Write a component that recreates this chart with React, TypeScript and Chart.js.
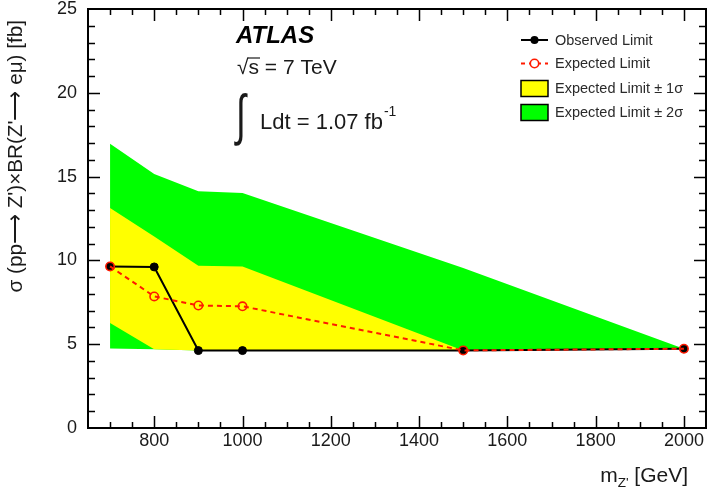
import { useEffect, useRef } from 'react';
import { Chart, registerables } from 'chart.js';

Chart.register(...registerables);

// Z' mass points [GeV] and 95% CL limits on sigma x BR [fb]
const massPoints = [700, 800, 900, 1000, 1500, 2000];
const observedLimit = [9.64, 9.61, 4.62, 4.62, 4.63, 4.73];
const expectedLimit = [9.64, 7.85, 7.31, 7.26, 4.63, 4.73];
const expectedPlus1Sigma = [13.13, 11.43, 9.68, 9.64, 4.63, 4.73];
const expectedMinus1Sigma = [6.26, 4.7, 4.62, 4.62, 4.63, 4.73];
const expectedPlus2Sigma = [16.96, 15.15, 14.12, 14.02, 9.55, 4.73];
const expectedMinus2Sigma = [4.75, 4.7, 4.62, 4.62, 4.63, 4.73];

const xTickValues = [800, 1000, 1200, 1400, 1600, 1800, 2000];
const yTickValues = [0, 5, 10, 15, 20, 25];
const xMin = 650;
const xMax = 2050;
const yMin = 0;
const yMax = 25;

const legendLabels = [
  'Observed Limit',
  'Expected Limit',
  'Expected Limit \u00b1 1\u03c3',
  'Expected Limit \u00b1 2\u03c3',
];

const FONT = '"Liberation Sans", Arial, Helvetica, sans-serif';
const TEXT = '#1a1a1a';
const GREEN = '#00ff00';
const YELLOW = '#ffff00';
const RED = '#ff1a00';

const toPoints = (vals: number[]) => massPoints.map((x, i) => ({ x, y: vals[i] }));

// ROOT-style frame: ticks pointing inward on all four sides
const framePlugin = {
  id: 'rootFrame',
  afterDatasetsDraw(chart: any) {
    const { ctx, chartArea, scales } = chart;
    const { left, right, top, bottom } = chartArea;
    const xs = scales.x;
    const ys = scales.y;
    ctx.save();
    ctx.strokeStyle = '#000';
    ctx.lineWidth = 1.5;
    ctx.beginPath();
    for (let v = xMin + 50; v < xMax; v += 50) {
      const px = Math.round(xs.getPixelForValue(v)) + 0.5;
      const len = v % 200 === 0 ? 12 : 6;
      ctx.moveTo(px, bottom);
      ctx.lineTo(px, bottom - len);
      ctx.moveTo(px, top);
      ctx.lineTo(px, top + len);
    }
    for (let v = yMin + 1; v < yMax; v += 1) {
      const py = Math.round(ys.getPixelForValue(v)) + 0.5;
      const len = v % 5 === 0 ? 12 : 7;
      ctx.moveTo(left, py);
      ctx.lineTo(left + len, py);
      ctx.moveTo(right, py);
      ctx.lineTo(right - len, py);
    }
    ctx.stroke();
    ctx.lineWidth = 2;
    ctx.strokeRect(left, top, right - left, bottom - top);
    ctx.restore();
  },
};

// Experiment label, legend and axis titles
const annotationPlugin = {
  id: 'annotations',
  afterDraw(chart: any) {
    const { ctx } = chart;
    ctx.save();
    ctx.textBaseline = 'middle';
    ctx.textAlign = 'left';

    // ATLAS label
    ctx.fillStyle = '#000';
    ctx.font = `italic bold 24px ${FONT}`;
    ctx.fillText('ATLAS', 236, 36);

    // sqrt(s) = 7 TeV
    ctx.fillStyle = TEXT;
    ctx.font = `21px ${FONT}`;
    const sx = 237;
    const sy = 68;
    ctx.fillText('\u221a', sx, sy);
    const wRoot = ctx.measureText('\u221a').width;
    ctx.fillText('s = 7 TeV', sx + wRoot, sy);
    const wS = ctx.measureText('s').width;
    ctx.lineWidth = 1.2;
    ctx.strokeStyle = TEXT;
    ctx.beginPath();
    ctx.moveTo(sx + wRoot - 1, sy - 10);
    ctx.lineTo(sx + wRoot + wS + 1, sy - 10);
    ctx.stroke();

    // integral L dt
    ctx.save();
    ctx.font = `36px ${FONT}`;
    ctx.translate(236, 119);
    ctx.scale(1, 1.55);
    ctx.fillText('\u222b', 0, 0);
    ctx.restore();
    ctx.font = `22px ${FONT}`;
    const lx = 260;
    const ly = 123;
    ctx.fillText('Ldt = 1.07 fb', lx, ly);
    const wL = ctx.measureText('Ldt = 1.07 fb').width;
    ctx.font = `14px ${FONT}`;
    ctx.fillText('-1', lx + wL + 1, ly - 11);

    // legend
    const lgX0 = 521;
    const lgX1 = 548;
    const lgMid = (lgX0 + lgX1) / 2;
    const lgText = 555;
    const rows = [40, 63.5, 88.5, 112.5];
    ctx.font = `14.5px ${FONT}`;
    ctx.fillStyle = '#2a2a2a';
    legendLabels.forEach((label, i) => ctx.fillText(label, lgText, rows[i] + 0.5));

    ctx.strokeStyle = '#000';
    ctx.lineWidth = 2;
    ctx.beginPath();
    ctx.moveTo(lgX0, rows[0]);
    ctx.lineTo(lgX1, rows[0]);
    ctx.stroke();
    ctx.fillStyle = '#000';
    ctx.beginPath();
    ctx.arc(lgMid, rows[0], 4, 0, Math.PI * 2);
    ctx.fill();

    ctx.strokeStyle = RED;
    ctx.setLineDash([4, 4]);
    ctx.beginPath();
    ctx.moveTo(lgX0, rows[1]);
    ctx.lineTo(lgX1, rows[1]);
    ctx.stroke();
    ctx.setLineDash([]);
    ctx.fillStyle = '#fff';
    ctx.lineWidth = 1.6;
    ctx.beginPath();
    ctx.arc(lgMid, rows[1], 4.2, 0, Math.PI * 2);
    ctx.fill();
    ctx.stroke();

    ctx.lineWidth = 1.5;
    ctx.strokeStyle = '#000';
    ctx.fillStyle = YELLOW;
    ctx.fillRect(lgX0, rows[2] - 8, lgX1 - lgX0, 16);
    ctx.strokeRect(lgX0, rows[2] - 8, lgX1 - lgX0, 16);
    ctx.fillStyle = GREEN;
    ctx.fillRect(lgX0, rows[3] - 8, lgX1 - lgX0, 16);
    ctx.strokeRect(lgX0, rows[3] - 8, lgX1 - lgX0, 16);

    // x-axis title: m_Z' [GeV]
    ctx.fillStyle = TEXT;
    ctx.textBaseline = 'alphabetic';
    const big = `21px ${FONT}`;
    const small = `13.5px ${FONT}`;
    ctx.font = big;
    const wM = ctx.measureText('m').width;
    const wG = ctx.measureText(' [GeV]').width;
    ctx.font = small;
    const wZ = ctx.measureText("Z'").width;
    const xEnd = 688;
    const x0 = xEnd - (wM + wZ + wG);
    ctx.font = big;
    ctx.fillText('m', x0, 482);
    ctx.font = small;
    ctx.fillText("Z'", x0 + wM, 487);
    ctx.font = big;
    ctx.fillText(' [GeV]', x0 + wM + wZ, 482);

    // y-axis title
    ctx.save();
    ctx.translate(22, 20);
    ctx.rotate(-Math.PI / 2);
    ctx.textAlign = 'right';
    ctx.font = `20.7px ${FONT}`;
    ctx.fillText("\u03c3 (pp\u27f6 Z')\u00d7BR(Z'\u27f6 e\u03bc) [fb]", 0, 0);
    ctx.restore();

    ctx.restore();
  },
};

export default function App() {
  const canvasRef = useRef<HTMLCanvasElement>(null);

  useEffect(() => {
    const prevMargin = document.body.style.margin;
    document.body.style.margin = '0';
    const canvas = canvasRef.current;
    if (!canvas) return;

    const bandLine = {
      borderWidth: 0,
      borderColor: 'rgba(0,0,0,0)',
      pointRadius: 0,
      pointHoverRadius: 0,
      tension: 0,
    };

    const chart = new Chart(canvas, {
      type: 'line',
      data: {
        datasets: [
          {
            label: legendLabels[0],
            data: toPoints(observedLimit),
            borderColor: '#000',
            borderWidth: 2,
            pointRadius: 4,
            pointBackgroundColor: '#000',
            pointBorderColor: '#000',
            pointBorderWidth: 1,
            tension: 0,
            order: 1,
          },
          {
            label: legendLabels[1],
            data: toPoints(expectedLimit),
            borderColor: RED,
            borderWidth: 2,
            borderDash: [5, 4],
            pointRadius: 4.2,
            pointBackgroundColor: 'rgba(0,0,0,0)',
            pointBorderColor: RED,
            pointBorderWidth: 1.6,
            tension: 0,
            order: 0,
          },
          {
            label: legendLabels[2],
            data: toPoints(expectedPlus1Sigma),
            backgroundColor: YELLOW,
            fill: '+1',
            order: 2,
            ...bandLine,
          },
          {
            label: 'minus1',
            data: toPoints(expectedMinus1Sigma),
            fill: false,
            order: 3,
            ...bandLine,
          },
          {
            label: legendLabels[3],
            data: toPoints(expectedPlus2Sigma),
            backgroundColor: GREEN,
            fill: '+1',
            order: 4,
            ...bandLine,
          },
          {
            label: 'minus2',
            data: toPoints(expectedMinus2Sigma),
            fill: false,
            order: 5,
            ...bandLine,
          },
        ],
      },
      options: {
        animation: false,
        responsive: false,
        devicePixelRatio: 1,
        events: [],
        layout: { autoPadding: false, padding: { top: 9, right: 10, left: 0, bottom: 0 } },
        plugins: {
          legend: { display: false },
          tooltip: { enabled: false },
        },
        scales: {
          x: {
            type: 'linear',
            min: xMin,
            max: xMax,
            grid: { display: false, drawTicks: false },
            border: { display: false },
            afterBuildTicks: (scale: any) => {
              scale.ticks = xTickValues.map((value) => ({ value }));
            },
            afterFit: (scale: any) => {
              scale.height = 67;
              scale.paddingLeft = 0;
              scale.paddingRight = 0;
            },
            ticks: {
              autoSkip: false,
              maxRotation: 0,
              padding: 2,
              color: TEXT,
              font: { family: FONT, size: 18 },
              callback: (value: any) => String(value),
            },
          },
          y: {
            type: 'linear',
            min: yMin,
            max: yMax,
            grid: { display: false, drawTicks: false },
            border: { display: false },
            afterBuildTicks: (scale: any) => {
              scale.ticks = yTickValues.map((value) => ({ value }));
            },
            afterFit: (scale: any) => {
              scale.width = 88;
              scale.paddingTop = 0;
              scale.paddingBottom = 0;
            },
            ticks: {
              padding: 11,
              color: TEXT,
              font: { family: FONT, size: 18 },
              callback: (value: any) => String(value),
            },
          },
        },
      },
      plugins: [framePlugin, annotationPlugin],
    });

    return () => {
      chart.destroy();
      document.body.style.margin = prevMargin;
    };
  }, []);

  return (
    <div style={{ width: 716, height: 495 }}>
      <canvas ref={canvasRef} width={716} height={495} style={{ display: 'block' }} />
    </div>
  );
}
